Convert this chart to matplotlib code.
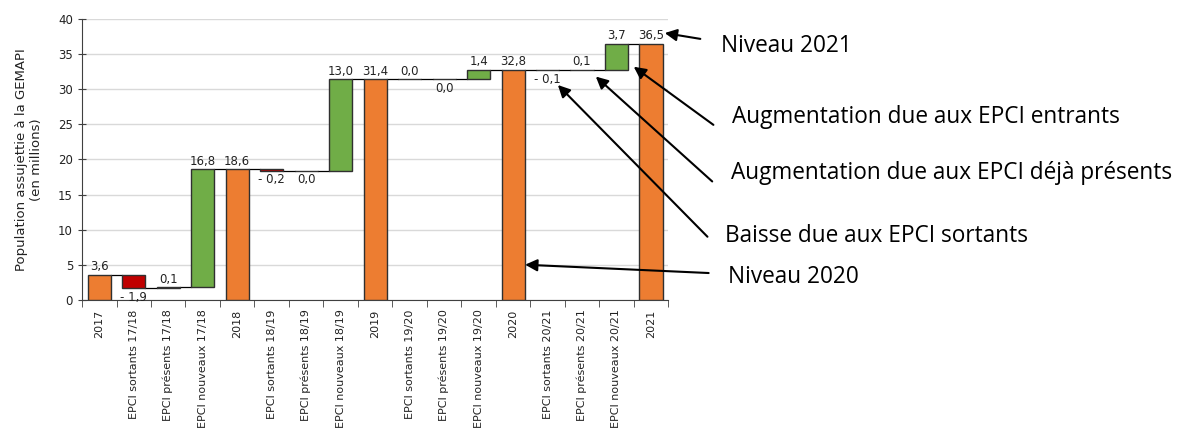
import matplotlib
matplotlib.use("Agg")
import matplotlib.pyplot as plt
import numpy as np

# Categories and values (millions). Totals are levels, others are deltas.
categories = ["2017", "EPCI sortants 17/18", "EPCI présents 17/18", "EPCI nouveaux 17/18",
              "2018", "EPCI sortants 18/19", "EPCI présents 18/19", "EPCI nouveaux 18/19",
              "2019", "EPCI sortants 19/20", "EPCI présents 19/20", "EPCI nouveaux 19/20",
              "2020", "EPCI sortants 20/21", "EPCI présents 20/21", "EPCI nouveaux 20/21",
              "2021"]
# -0.0 marks tiny negative changes that round to zero (label drawn below)
values = [3.6, -1.9, 0.1, 16.8,
          18.6, -0.2, -0.0, 13.0,
          31.4, 0.0, -0.0, 1.4,
          32.8, -0.1, 0.1, 3.7,
          36.5]
kinds = ["total", "delta", "delta", "delta"] * 4 + ["total"]

annotations = ["Niveau 2021", "Augmentation due aux EPCI entrants",
               "Augmentation due aux EPCI déjà présents",
               "Baisse due aux EPCI sortants", "Niveau 2020"]

ORANGE = "#ED7D31"
RED = "#C00000"
GREEN = "#70AD47"

fig = plt.figure(figsize=(11.89, 4.32), dpi=100)
ax = fig.add_axes([0.069, 0.306, 0.493, 0.650])

width = 0.67
level = 0.0
bottoms, tops, colors = [], [], []
for v, k in zip(values, kinds):
    if k == "total":
        b, t = 0.0, v
        level = v
        c = ORANGE
    else:
        b = level
        t = level + v
        level = t
        c = GREEN if v > 0 else (RED if v < 0 else "#404040")
    bottoms.append(b)
    tops.append(t)
    colors.append(c)

x = np.arange(len(categories))
heights = np.array(tops) - np.array(bottoms)
ax.bar(x, heights, bottom=bottoms, width=width, color=colors,
       edgecolor="#303030", linewidth=1.0, zorder=3)

# connector lines between bars
for i in range(len(values) - 1):
    lev = tops[i]
    ax.plot([x[i] + width / 2, x[i + 1] - width / 2], [lev, lev],
            color="black", linewidth=0.9, zorder=2)

# value labels
for i, v in enumerate(values):
    txt = ("- " if v < 0 else "") + f"{abs(v):.1f}".replace(".", ",")
    if np.signbit(v):
        ax.annotate(txt, (x[i], min(bottoms[i], tops[i])), xytext=(0, -2),
                    textcoords="offset points", ha="center", va="top",
                    fontsize=8.5, color="#222222")
    else:
        ax.annotate(txt, (x[i], max(bottoms[i], tops[i])), xytext=(0, 1),
                    textcoords="offset points", ha="center", va="bottom",
                    fontsize=8.5, color="#222222")

ax.set_xlim(-0.5, len(categories) - 0.5)
ax.set_ylim(0, 40)
ax.set_yticks(np.arange(0, 41, 5))
ax.yaxis.grid(True, color="#d9d9d9", linewidth=1.0, zorder=0)
ax.set_axisbelow(True)
ax.set_xticks(x)
ax.set_xticklabels(categories, rotation=90, fontsize=8, color="#222222")
ax.set_xticks(np.arange(-0.5, len(categories), 1), minor=True)
ax.tick_params(axis="x", which="major", length=0, pad=7)
ax.tick_params(axis="x", which="minor", length=5, direction="out", color="#404040")
ax.tick_params(axis="y", length=6, direction="inout", color="#404040",
               labelsize=8.5, labelcolor="#222222")
for s in ["top", "right"]:
    ax.spines[s].set_visible(False)
for s in ["left", "bottom"]:
    ax.spines[s].set_color("#404040")
ax.set_ylabel("Population assujettie à la GEMAPI\n(en millions)", fontsize=9.5,
              color="#222222", labelpad=11)

# annotations with arrows: (head in data coords, tail/text in figure fraction)
heads = [(16.4, 38.0), (15.5, 33.2), (14.4, 31.8), (13.3, 30.6), (12.35, 5.0)]
tails = [(0.589, 0.910), (0.600, 0.711), (0.599, 0.580), (0.595, 0.452), (0.596, 0.368)]
text_pos = [(0.606, 0.894), (0.616, 0.729), (0.615, 0.599), (0.610, 0.454), (0.612, 0.359)]
for label, h, t, p in zip(annotations, heads, tails, text_pos):
    ax.annotate("", xy=h, xycoords="data", xytext=t, textcoords="figure fraction",
                arrowprops=dict(arrowstyle="-|>", color="black", lw=1.5,
                                mutation_scale=18, shrinkA=0, shrinkB=0),
                annotation_clip=False)
    fig.text(p[0], p[1], label, fontsize=16.3, family="Open Sans",
             ha="left", va="center", color="black")

fig.savefig("out.png", dpi=100)
